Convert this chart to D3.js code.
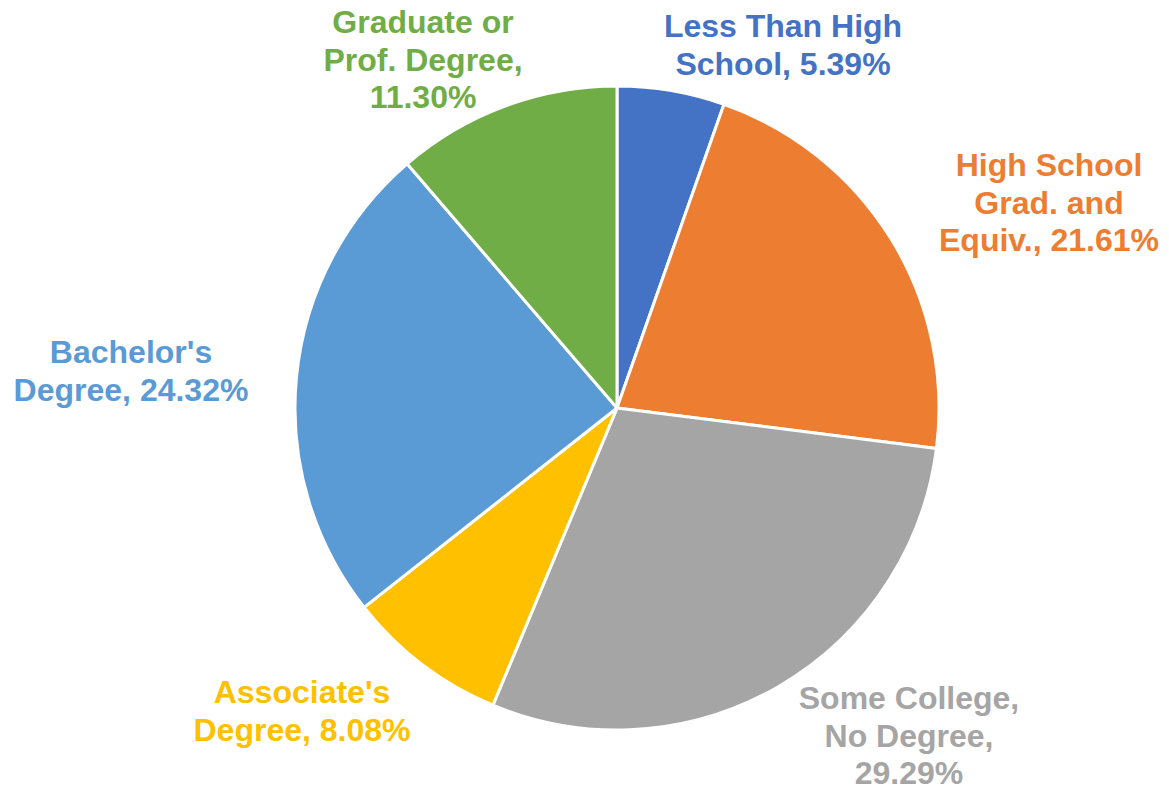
<!DOCTYPE html>
<html>
<head>
<meta charset="utf-8">
<script src="https://cdn.jsdelivr.net/npm/d3@7"></script>
<style>
  body { margin: 0; background: #fff; }
  text { font-family: "Liberation Sans", Arial, sans-serif; font-weight: bold; }
</style>
</head>
<body>
<div id="graph"></div>
<script>
// data
var categories = ["Less Than High School", "High School Grad. and Equiv.", "Some College, No Degree",
    "Associate's Degree", "Bachelor's Degree", "Graduate or Prof. Degree"];
var values = [5.39, 21.61, 29.29, 8.08, 24.32, 11.30];
var labelLines = [
    ["Less Than High", "School, 5.39%"],
    ["High School", "Grad. and", "Equiv., 21.61%"],
    ["Some College,", "No Degree,", "29.29%"],
    ["Associate's", "Degree, 8.08%"],
    ["Bachelor's", "Degree, 24.32%"],
    ["Graduate or", "Prof. Degree,", "11.30%"]
];
var colors = ["#4472C4", "#ED7D31", "#A5A5A5", "#FFC000", "#5B9BD5", "#70AD47"];

// layout
var width = 1169;
var height = 792;
var cx = 617, cy = 408, radius = 322;
// where each label block sits (x centre, first baseline), relative to the pie centre
var labelSpots = [[166, -371], [432, -232], [292, 301], [-315, 295], [-486, -45], [-194, -375]];
var lineGap = 37.5;

var svg = d3.select('#graph')
    .append('svg')
    .attr('width', width)
    .attr('height', height);

var pie = d3.pie().sort(null).value(function(d) { return d; });
var arc = d3.arc().innerRadius(0).outerRadius(radius);

var g = svg.append('g').attr('transform', 'translate(' + cx + ',' + cy + ')');

g.selectAll('path')
    .data(pie(values))
    .enter()
    .append('path')
    .attr('d', arc)
    .attr('fill', function(d, i) { return colors[i]; })
    .attr('stroke', '#fff')
    .attr('stroke-width', 3)
    .attr('stroke-linejoin', 'round');

var labels = g.selectAll('text.lbl')
    .data(labelLines)
    .enter()
    .append('text')
    .attr('class', 'lbl')
    .attr('text-anchor', 'middle')
    .attr('font-size', 32)
    .attr('fill', function(d, i) { return colors[i]; })
    .attr('x', function(d, i) { return labelSpots[i][0]; })
    .attr('y', function(d, i) { return labelSpots[i][1]; });

labels.each(function(lines, i) {
    d3.select(this).selectAll('tspan')
        .data(lines)
        .enter()
        .append('tspan')
        .attr('x', labelSpots[i][0])
        .attr('dy', function(d, j) { return j === 0 ? 0 : lineGap; })
        .text(function(d) { return d; });
});
</script>
</body>
</html>
